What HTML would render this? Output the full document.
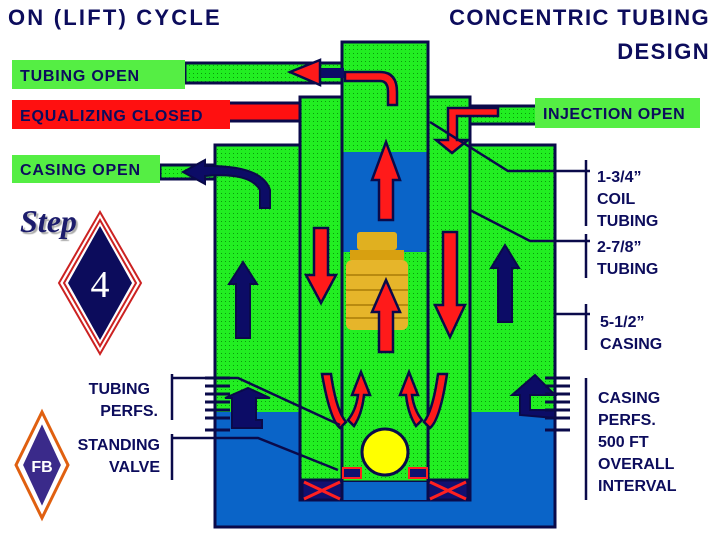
<!DOCTYPE html>
<html><head><meta charset="utf-8"><style>
body{margin:0;background:#fff;width:720px;height:540px;overflow:hidden}
svg{display:block}
text{font-family:"Liberation Sans",Arial,sans-serif;font-weight:bold}
</style></head><body>
<svg width="720" height="540" viewBox="0 0 720 540">
<defs>
<pattern id="g" width="4" height="4" patternUnits="userSpaceOnUse"><rect width="4" height="4" fill="#22ee22"/><rect x="1" y="1" width="1" height="1" fill="#0a9a0a"/></pattern>
</defs>
<!-- titles -->
<text x="8" y="25" font-size="22" fill="#0c0c5c" letter-spacing="2.2">ON (LIFT) CYCLE</text>
<text x="710" y="25" font-size="22" fill="#0c0c5c" text-anchor="end" letter-spacing="1.4">CONCENTRIC TUBING</text>
<text x="710" y="59" font-size="22" fill="#0c0c5c" text-anchor="end" letter-spacing="1.4">DESIGN</text>

<!-- pipes top -->
<rect x="185" y="63" width="160" height="20" fill="url(#g)" stroke="#0a0a4a" stroke-width="3"/>
<rect x="228" y="103" width="75" height="18" fill="#ff1010" stroke="#0a0a4a" stroke-width="3"/>
<rect x="468" y="106" width="72" height="18" fill="url(#g)" stroke="#0a0a4a" stroke-width="3"/>
<rect x="160" y="165" width="57" height="14" fill="url(#g)" stroke="#0a0a4a" stroke-width="3"/>

<!-- casing -->
<rect x="215" y="145" width="340" height="382" fill="url(#g)" stroke="#0a0a4a" stroke-width="3"/>
<rect x="216.5" y="412" width="337" height="113.5" fill="#0a64c8"/>
<!-- 2-7/8 tubing -->
<rect x="300" y="97" width="170" height="403" fill="url(#g)" stroke="#0a0a4a" stroke-width="3"/>
<!-- coil -->
<rect x="342" y="42" width="86" height="440" fill="url(#g)" stroke="#0a0a4a" stroke-width="3"/>
<rect x="343.5" y="152" width="83" height="100" fill="#0a64c8"/>
<rect x="343.5" y="482" width="83" height="18" fill="#0a64c8"/>
<line x1="342" y1="42" x2="342" y2="482" stroke="#0a0a4a" stroke-width="3"/>
<line x1="428" y1="42" x2="428" y2="482" stroke="#0a0a4a" stroke-width="3"/>
<!-- packers -->
<g stroke-width="3">
<rect x="302" y="480" width="40" height="20" fill="#101070" stroke="#0a0a4a"/>
<path d="M304 482 L340 499 M340 482 L304 499" stroke="#ff2020"/>
<rect x="428" y="480" width="40" height="20" fill="#101070" stroke="#0a0a4a"/>
<path d="M430 482 L466 499 M466 482 L430 499" stroke="#ff2020"/>
</g>
<rect x="343" y="468" width="18" height="10" fill="#101070" stroke="#ff2020" stroke-width="2"/>
<rect x="409" y="468" width="18" height="10" fill="#101070" stroke="#ff2020" stroke-width="2"/>
<circle cx="385" cy="452" r="23" fill="#ffff00" stroke="#0a0a4a" stroke-width="3"/>

<!-- plunger -->
<g>
<rect x="357" y="232" width="40" height="18" rx="3" fill="#e0b020"/>
<rect x="350" y="250" width="54" height="10" fill="#d8a010"/>
<rect x="346" y="260" width="62" height="70" rx="6" fill="#e6b52a"/>
<path d="M346 275 H408 M346 290 H408 M346 305 H408 M346 318 H408" stroke="#b88a10" stroke-width="2"/>
</g>

<!-- tubing open arrow shaft -->
<rect x="318" y="68" width="26" height="10" fill="#0c0c66"/>
<!-- red arrows -->
<g fill="#ff1a1a" stroke="#0a0a4a" stroke-width="2.5">
<path d="M379 220 V180 H372 L386 142 L400 180 H393 V220 Z"/>
<path d="M379 352 V312 H372 L386 280 L400 312 H393 V352 Z"/>
<path d="M314 228 H328 V275 H336 L321 303 L306 275 H314 Z"/>
<path d="M443 232 H457 V305 H465 L450 337 L435 305 H443 Z"/>
<path d="M320 60 L290 72 L320 85 Z"/>
<path d="M345 72 H380 Q397 72 397 92 V105 H388 V92 Q388 81 380 81 H345 Z"/>
<path d="M448 108 H498 V116 H457 V140 H468 L452 153 L436 140 H448 Z"/>
<path d="M322 374 Q330 420 340 428 L346 422 Q336 410 331 374 Z"/>
<path d="M447 374 Q440 420 430 428 L424 422 Q433 410 438 374 Z"/>
<path d="M348 420 Q356 410 358 395 H352 L361 372 L370 395 H364 Q362 414 354 426 Z"/>
<path d="M422 420 Q414 410 412 395 H418 L409 372 L400 395 H406 Q408 414 416 426 Z"/>
</g>
<!-- blue arrows -->
<g fill="#0c0c66" stroke="#0a0a4a" stroke-width="2">
<path d="M236 338 V284 H229 L243 262 L257 284 H250 V338 Z"/>
<path d="M498 322 V268 H491 L505 245 L519 268 H512 V322 Z"/>
<path d="M205 160 L183 172 L205 184 V176 Q250 172 260 190 V208 H270 V190 Q262 165 205 166 Z"/>
<path d="M232 428 V398 H225 L248 388 L270 398 H256 V420 H262 V428 Z"/>
<path d="M520 415 V395 H512 L535 375 L555 395 H530 V410 H555 V418 Z"/>
</g>
<!-- perf marks -->
<g stroke="#0a0a4a" stroke-width="3">
<path d="M205 378 H230 M205 386 H230 M205 394 H230 M205 402 H230 M205 410 H230 M205 418 H230 M205 430 H230"/>
<path d="M545 378 H570 M545 386 H570 M545 394 H570 M545 402 H570 M545 410 H570 M545 418 H570 M545 430 H570"/>
</g>
<!-- leader lines -->
<g stroke="#0a0a4a" stroke-width="2.5" fill="none">
<polyline points="430,122 508,171 590,171"/>
<polyline points="470,210 530,241 590,241"/>
<line x1="555" y1="314" x2="590" y2="314"/>
<polyline points="172,378 238,378 340,425"/>
<polyline points="172,438 258,438 338,470"/>
<line x1="172" y1="374" x2="172" y2="420"/>
<line x1="172" y1="434" x2="172" y2="480"/>
<line x1="586" y1="160" x2="586" y2="226"/>
<line x1="586" y1="234" x2="586" y2="278"/>
<line x1="586" y1="304" x2="586" y2="350"/>
<line x1="586" y1="378" x2="586" y2="500"/>
</g>

<!-- label boxes -->
<rect x="12" y="60" width="173" height="29" fill="#55ee44"/>
<text x="20" y="81" font-size="16" fill="#0c0c5c" letter-spacing="0.8">TUBING OPEN</text>
<rect x="12" y="100" width="218" height="29" fill="#ff1010"/>
<text x="20" y="121" font-size="16" fill="#0c0c5c" letter-spacing="0.8">EQUALIZING CLOSED</text>
<rect x="12" y="155" width="148" height="28" fill="#55ee44"/>
<text x="20" y="175" font-size="16" fill="#0c0c5c" letter-spacing="0.8">CASING OPEN</text>
<rect x="535" y="98" width="165" height="30" fill="#55ee44"/>
<text x="543" y="119" font-size="16" fill="#0c0c5c" letter-spacing="0.5">INJECTION OPEN</text>

<g font-size="16" fill="#0c0c5c">
<text x="597" y="182">1-3/4”</text><text x="597" y="204">COIL</text><text x="597" y="226">TUBING</text>
<text x="597" y="252">2-7/8”</text><text x="597" y="274">TUBING</text>
<text x="600" y="327">5-1/2”</text><text x="600" y="349">CASING</text>
<text x="598" y="403">CASING</text><text x="598" y="425">PERFS.</text><text x="598" y="447">500 FT</text><text x="598" y="469">OVERALL</text><text x="598" y="491">INTERVAL</text>
<text x="150" y="394" text-anchor="end">TUBING</text><text x="158" y="416" text-anchor="end">PERFS.</text>
<text x="160" y="450" text-anchor="end">STANDING</text><text x="160" y="472" text-anchor="end">VALVE</text>
</g>

<!-- step -->
<text x="20" y="232" font-size="32" font-style="italic" fill="#1c1c6c" style="font-family:'Liberation Serif',serif;text-shadow:2px 2px 1px #aaa">Step</text>
<path d="M100 212 L141 283 L100 354 L59 283 Z" fill="#fff" stroke="#cc2222" stroke-width="2"/>
<path d="M100 220 L136 283 L100 346 L64 283 Z" fill="none" stroke="#cc2222" stroke-width="2"/>
<path d="M100 226 L132 283 L100 340 L68 283 Z" fill="#0c0c5c"/>
<text x="100" y="297" font-size="38" fill="#fff" text-anchor="middle" style="font-family:'Liberation Serif',serif;font-weight:normal">4</text>
<!-- logo -->
<path d="M42 412 L68 465 L42 518 L16 465 Z" fill="#fff" stroke="#e06010" stroke-width="3"/>
<path d="M42 422 L62 465 L42 508 L22 465 Z" fill="#3a2a8a" stroke="#fff" stroke-width="2"/>
<text x="42" y="472" font-size="16" fill="#fff" text-anchor="middle">FB</text>
</svg>
</body></html>
